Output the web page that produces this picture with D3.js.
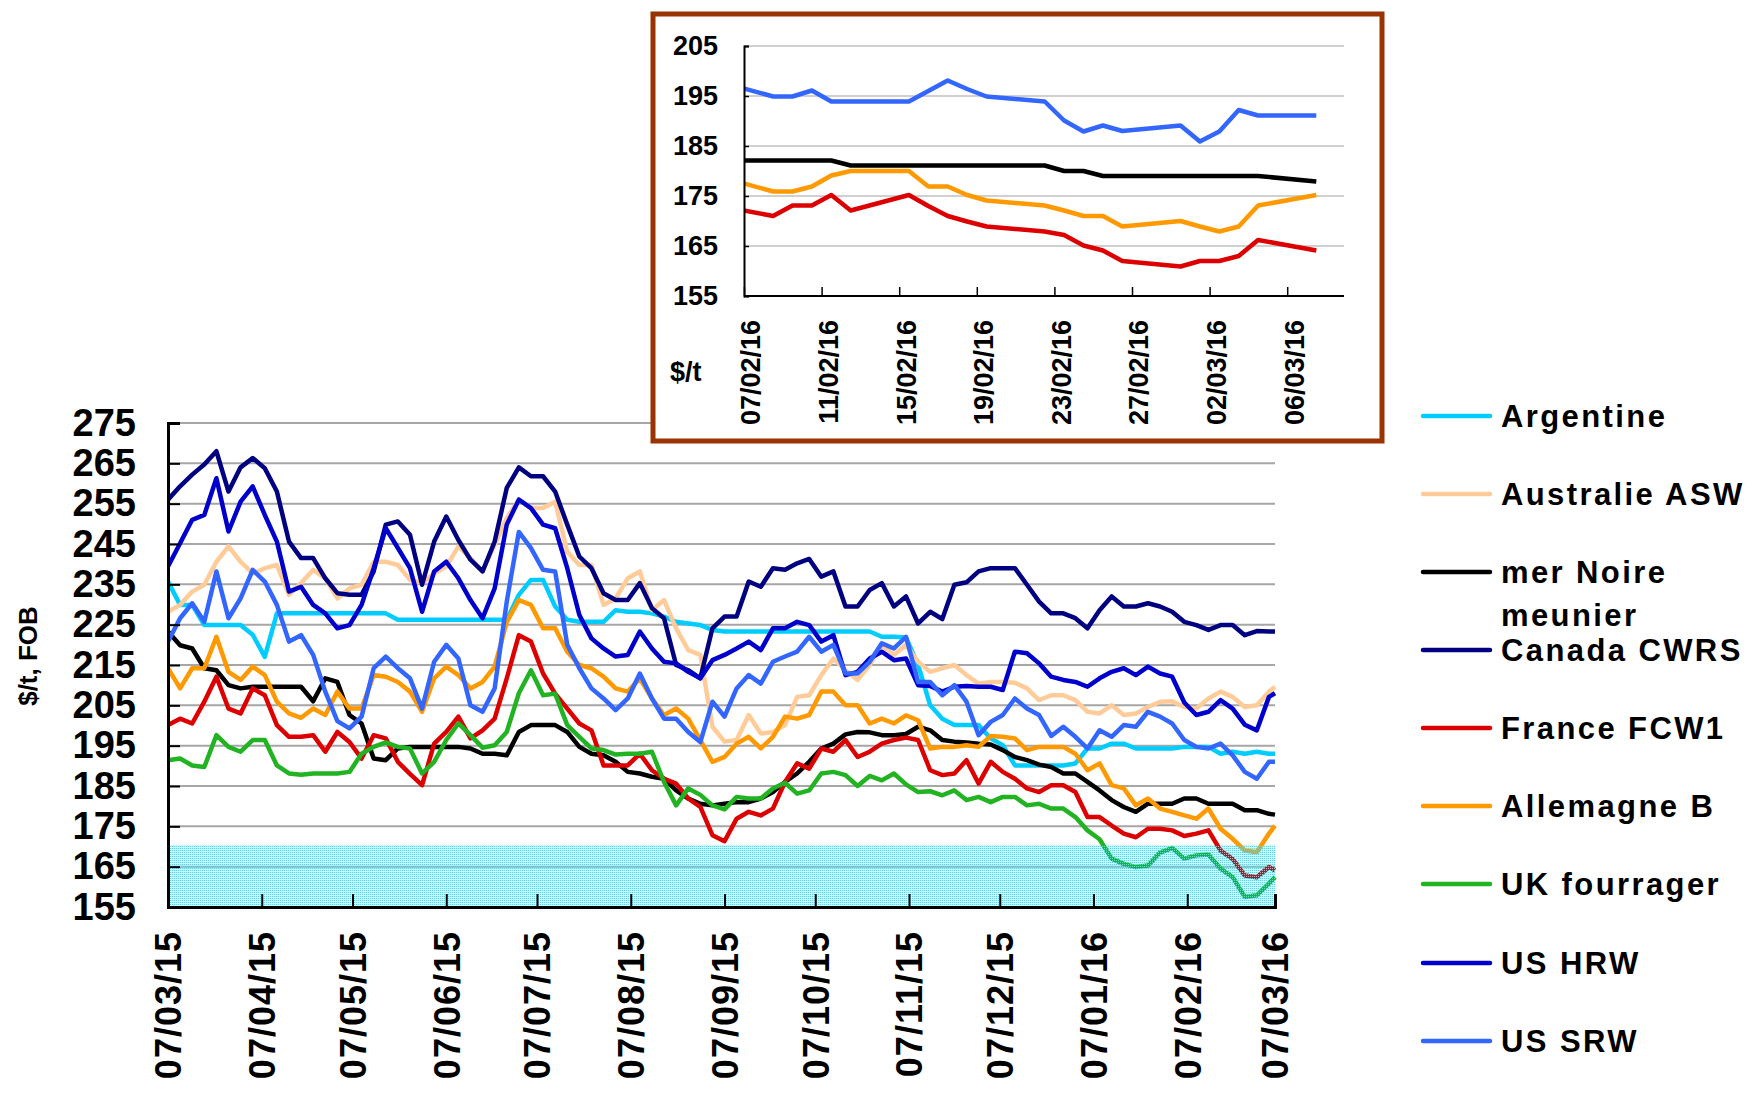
<!DOCTYPE html>
<html>
<head>
<meta charset="utf-8">
<script src="https://cdn.jsdelivr.net/npm/d3@7"></script>
<style>
body { margin: 0; background: #fff; }
svg { display: block; font-family: "Liberation Sans", Arial, sans-serif; font-weight: bold; }
</style>
</head>
<body>
<svg id="chart"></svg>
<script>
var WIDTH = 1753;
var HEIGHT = 1093;

var parseDate = d3.timeParse('%d/%m/%y');

// main chart: one price every 4 days from 07/03/15, last one on 07/03/16
var firstDay = '07/03/15';
var lastDay = '07/03/16';
var stepDays = 4;

var argentine = [235.7, 229.9, 229.9, 224.9, 224.9, 224.9, 224.9, 222.5, 217.0, 227.8, 227.8, 227.8, 227.8, 227.8, 227.8, 227.8,
  227.8, 227.8, 227.8, 226.2, 226.2, 226.2, 226.2, 226.2, 226.2, 226.2, 226.2, 226.2, 226.2, 232.4, 236.1,
  236.1, 229.5, 226.2, 225.7, 225.7, 225.7, 228.6, 228.2, 228.2, 227.8, 227.0, 225.7, 225.3, 224.9, 223.7,
  223.3,
  223.3, 223.3, 223.3, 223.3, 223.3, 223.3, 223.3, 223.3, 223.3, 223.3, 223.3, 223.3, 222.0, 222.0, 221.8,
  215.0, 205.0, 201.7, 200.1, 200.1, 200.1, 196.8, 195.1, 190.1, 190.1, 190.1, 190.1, 190.1, 190.6, 194.3,
  194.3, 195.5, 195.5, 194.3, 194.3, 194.3, 194.3, 194.7, 194.7, 194.7, 193.0, 193.5, 193.0, 193.5, 193.0,
  193.0];
var australie = [228.2, 229.9, 233.2, 234.9, 240.6, 244.4, 240.6, 237.7, 239.0, 239.8, 232.4, 235.3, 238.6, 236.5, 231.5, 234.0,
  234.9, 240.6, 240.6, 239.8, 236.1, 235.3, 237.7, 239.4, 244.4, 241.5, 238.2, 244.8, 251.4, 256.0, 253.9,
  253.9, 255.5, 243.1, 239.8, 239.8, 229.9, 231.5, 236.5, 238.2, 228.6, 231.1, 224.1, 218.7, 217.5, 199.7,
  196.0,
  196.4, 202.6, 198.0, 198.4, 200.1, 207.1, 207.5, 212.5, 216.6, 213.7, 211.3, 215.0, 220.0, 217.5, 220.0,
  215.8, 213.3, 214.2, 215.0, 212.5, 210.4, 210.8, 210.8, 210.6, 209.2, 206.3, 207.5, 207.5, 206.3, 203.4,
  203.0, 205.0, 202.6, 203.0, 204.6, 205.9, 206.0, 204.6, 204.2, 206.7, 208.4, 207.1, 204.6, 205.0, 208.4,
  209.6];
var merNoire = [223.3, 219.9, 219.1, 214.2, 213.7, 210.0, 209.2, 209.6, 209.6, 209.6, 209.6, 209.6, 206.0, 211.7, 210.8, 202.6,
  200.5, 191.8, 191.4, 194.3, 194.7, 194.7, 194.7, 194.7, 194.7, 194.3, 193.0, 193.0, 192.6, 198.4, 200.1,
  200.1, 200.1, 198.4, 194.7, 193.0, 192.6, 191.0, 188.5, 188.1, 187.3, 186.8, 183.9, 181.9, 180.6, 180.2,
  180.6,
  181.0, 181.0, 181.9, 183.5, 186.0, 188.1, 191.0, 194.3, 195.5, 197.8, 198.4, 198.3, 197.6, 197.6, 197.9,
  199.7, 198.8, 196.4, 196.0, 195.8, 195.5, 195.3, 193.9, 192.2, 191.4, 190.3, 189.7, 188.1, 188.1, 186.0,
  183.9, 181.5, 179.8, 178.6, 180.6, 180.6, 180.6, 181.9, 181.9, 180.6, 180.6, 180.6, 179.0, 179.0, 178.1,
  177.9];
var canada = [256.0, 259.3, 262.2, 264.7, 268.0, 258.0, 264.0, 266.3, 263.8, 258.0, 245.6, 241.5, 241.5, 236.5, 232.8, 232.4,
  232.4, 238.2, 249.8, 250.6, 247.3, 234.9, 245.6, 251.8, 246.0, 241.1, 238.2, 245.6, 258.9, 264.0, 261.8,
  261.8, 258.0, 249.8, 241.9, 239.0, 232.8, 231.1, 231.1, 235.3, 229.1, 226.6, 215.0, 213.7, 211.7, 224.1,
  227.0,
  227.0, 235.7, 234.4, 239.0, 238.6, 240.2, 241.3, 236.9, 238.2, 229.5, 229.5, 233.6, 235.3, 229.5, 232.0,
  225.3, 228.2, 226.4, 234.9, 235.5, 238.2, 239.0, 239.0, 239.0, 234.9, 230.7, 227.8, 227.8, 226.6, 224.1,
  228.6, 232.0, 229.5, 229.5, 230.3, 229.5, 228.2, 225.7, 224.9, 223.7, 224.9, 224.9, 222.4, 223.4, 223.3,
  223.3];
var france = [200.1, 201.7, 200.5, 205.9, 212.1, 204.2, 203.0, 209.2, 207.5, 200.1, 197.2, 197.2, 197.6, 193.5, 198.4, 195.9,
  191.8, 197.6, 196.8, 191.0, 188.0, 185.2, 195.5, 198.4, 202.2, 196.8, 198.8, 201.7, 211.7, 222.4, 220.8,
  212.9, 207.9, 204.2, 200.5, 198.8, 190.1, 190.1, 190.1, 193.0, 188.9, 186.8, 185.6, 181.9, 179.8, 172.8,
  171.3,
  176.9, 178.6, 177.7, 179.4, 186.0, 190.6, 189.3, 194.3, 193.5, 196.4, 192.2, 193.5, 195.5, 196.4, 197.0,
  196.4, 188.9, 187.7, 188.1, 191.4, 185.6, 191.0, 188.5, 186.8, 184.4, 183.5, 185.2, 185.2, 183.5, 177.3,
  177.3, 175.2, 173.2, 172.3, 174.4, 174.4, 174.0, 172.6, 173.2, 174.0, 169.0, 166.9, 162.8, 162.4, 164.9,
  164.1];
var allemagne = [214.2, 209.2, 214.2, 214.2, 222.0, 213.3, 211.3, 214.6, 212.5, 205.9, 203.0, 201.9, 204.2, 202.6, 208.4, 204.2,
  204.2, 212.5, 212.1, 210.8, 208.4, 203.4, 211.7, 214.6, 212.5, 209.2, 210.8, 214.6, 225.7, 231.1, 229.9,
  224.1, 224.1, 218.3, 215.0, 214.2, 212.1, 209.2, 208.4, 211.7, 206.7, 202.6, 204.2, 201.7, 196.4, 191.0,
  192.2,
  195.5, 197.2, 194.3, 197.2, 202.2, 201.7, 202.6, 208.4, 208.4, 205.0, 205.0, 200.5, 201.7, 200.5, 202.5,
  201.3, 194.3, 194.7, 194.7, 195.1, 194.7, 197.4, 197.2, 196.8, 193.9, 194.7, 194.7, 194.7, 193.0, 188.9,
  190.6, 185.2, 184.4, 180.2, 181.9, 179.4, 178.6, 177.7, 176.9, 179.4, 174.4, 171.9, 169.0, 168.6, 173.2,
  175.2];
var ukFourrager = [191.4, 191.8, 190.1, 189.7, 197.6, 194.7, 193.5, 196.4, 196.4, 190.1, 188.1, 187.8, 188.1, 188.1, 188.1, 188.5,
  193.0, 194.7, 195.8, 194.7, 194.3, 188.1, 191.0, 196.4, 200.5, 197.6, 194.5, 195.1, 198.4, 208.0, 213.7,
  207.5, 207.9, 200.1, 197.2, 194.3, 193.9, 192.8, 193.0, 193.0, 193.5, 186.0, 180.2, 184.4, 182.8, 180.2,
  179.2,
  182.3, 181.9, 181.9, 184.4, 185.8, 183.1, 183.9, 188.1, 188.5, 187.7, 185.0, 187.5, 186.4, 188.1, 185.4,
  183.5, 183.7, 182.7, 183.9, 181.5, 182.3, 181.0, 182.3, 182.3, 180.2, 180.6, 179.4, 179.4, 177.3, 174.0,
  171.8, 167.0, 165.7, 164.9, 165.3, 168.5, 169.6, 167.0, 167.8, 168.0, 164.5, 162.4, 157.5, 157.9, 160.8,
  162.4];
var usHRW = [239.4, 245.2, 251.0, 252.2, 261.3, 248.1, 255.5, 259.3, 252.2, 245.6, 233.2, 234.4, 229.9, 227.8, 224.1, 224.9,
  229.9, 239.0, 248.9, 244.0, 239.0, 228.2, 238.2, 240.6, 236.5, 231.1, 226.6, 234.0, 249.8, 256.0, 253.9,
  249.8, 248.9, 239.0, 227.4, 221.6, 219.1, 217.1, 217.5, 223.3, 219.1, 215.8, 215.4, 213.3, 211.7, 216.2,
  217.5,
  219.1, 220.8, 218.7, 224.1, 224.1, 225.7, 224.9, 220.8, 222.4, 212.5, 213.3, 216.6, 218.3, 216.2, 216.6,
  210.0, 209.8, 208.4, 209.6, 209.8, 209.6, 209.6, 208.8, 218.3, 217.9, 215.4, 212.1, 211.3, 210.8, 209.6,
  211.7, 213.3, 214.2, 212.5, 214.6, 212.9, 212.1, 205.7, 202.6, 203.4, 206.3, 204.2, 200.2, 198.8, 207.1,
  208.0];
var usSRW = [220.8, 226.6, 230.3, 225.7, 238.2, 226.6, 231.5, 238.6, 235.7, 229.9, 220.8, 222.4, 217.5, 208.4, 201.1, 199.3,
  202.2, 214.2, 217.1, 214.2, 211.7, 204.2, 215.8, 220.0, 216.6, 205.0, 203.4, 209.2, 230.7, 248.0, 244.0,
  238.6, 238.2, 220.0, 214.2, 209.2, 206.7, 203.8, 206.7, 212.9, 206.7, 201.7, 201.7, 198.4, 195.9, 205.9,
  202.2,
  209.2, 212.5, 210.4, 215.8, 217.1, 218.3, 222.0, 218.3, 220.0, 212.9, 212.9, 215.8, 220.4, 219.1, 222.0,
  210.8, 210.8, 207.5, 210.0, 205.9, 197.6, 200.9, 202.6, 206.7, 204.2, 202.6, 197.4, 199.7, 197.2, 194.3,
  198.8, 197.2, 200.1, 199.7, 203.4, 202.2, 200.5, 196.4, 194.7, 194.3, 195.5, 192.6, 188.5, 186.8, 191.0,
  191.0];

var seriesNames = ['Argentine', 'Australie ASW', 'mer Noire meunier', 'Canada CWRS', 'France FCW1',
  'Allemagne B', 'UK fourrager', 'US HRW', 'US SRW'];
var seriesColors = ['#00ccff', '#ffcc99', '#000000', '#000080', '#dd0000', '#ff9900', '#22b322', '#0000cc', '#3366ff'];
var seriesValues = [argentine, australie, merNoire, canada, france, allemagne, ukFourrager, usHRW, usSRW];

var xTickLabels = ['07/03/15', '07/04/15', '07/05/15', '07/06/15', '07/07/15', '07/08/15', '07/09/15',
  '07/10/15', '07/11/15', '07/12/15', '07/01/16', '07/02/16', '07/03/16'];
var yTicks = [155, 165, 175, 185, 195, 205, 215, 225, 235, 245, 255, 265, 275];
var bandTop = 170.4;

// inset: last month, one price per trading day
var insetDates = ['05/02/16', '08/02/16', '09/02/16', '10/02/16', '11/02/16', '12/02/16', '15/02/16', '16/02/16',
  '17/02/16', '18/02/16', '19/02/16', '22/02/16', '23/02/16', '24/02/16', '25/02/16', '26/02/16', '29/02/16',
  '01/03/16', '02/03/16', '03/03/16', '04/03/16', '07/03/16'];
var insetSRW = [198.1, 194.9, 194.9, 196.1, 193.9, 193.9, 193.9, 196.0, 198.1, 196.4, 194.9, 193.9, 190.1, 187.9,
  189.1, 188.0, 189.1, 185.9, 187.9, 192.2, 191.1, 191.1];
var insetNoire = [182.1, 182.1, 182.1, 182.1, 182.1, 181.1, 181.1, 181.1, 181.1, 181.1, 181.1, 181.1, 180.0, 180.0,
  179.0, 179.0, 179.0, 179.0, 179.0, 179.0, 179.0, 177.9];
var insetAllemagne = [179.1, 175.9, 175.9, 176.9, 179.1, 180.0, 180.0, 176.9, 176.9, 175.2, 174.1, 173.1, 172.1, 171.0,
  171.0, 168.9, 170.0, 168.9, 167.9, 168.9, 173.1, 175.2];
var insetFrance = [173.2, 171.0, 173.1, 173.1, 175.2, 172.1, 175.2, 173.0, 171.0, 169.9, 168.9, 167.9, 167.2, 165.1,
  164.1, 162.0, 160.9, 162.0, 162.0, 163.0, 166.2, 164.1];
var insetColors = ['#3366ff', '#000000', '#ff9900', '#dd0000'];
var insetValues = [insetSRW, insetNoire, insetAllemagne, insetFrance];
var insetXTickLabels = ['07/02/16', '11/02/16', '15/02/16', '19/02/16', '23/02/16', '27/02/16', '02/03/16', '06/03/16'];
var insetYTicks = [155, 165, 175, 185, 195, 205];

var svg = d3.select('#chart')
  .attr('width', WIDTH)
  .attr('height', HEIGHT);

svg.append('rect').attr('width', WIDTH).attr('height', HEIGHT).attr('fill', '#fff');

var defs = svg.append('defs');
var dots = defs.append('pattern')
  .attr('id', 'dots')
  .attr('width', 2).attr('height', 2)
  .attr('patternUnits', 'userSpaceOnUse');
dots.append('rect').attr('width', 1).attr('height', 1).attr('fill', '#4fdcf0');

// ---------- main chart ----------
var plotLeft = 168, plotRight = 1275, plotTop = 423, plotBottom = 907;

var xScale = d3.scaleTime()
  .domain([parseDate(firstDay), parseDate(lastDay)])
  .range([plotLeft, plotRight]);
var yScale = d3.scaleLinear()
  .domain([155, 275])
  .range([plotBottom, plotTop]);

var mainDates = d3.range(argentine.length - 1).map(function(i) {
  return d3.timeDay.offset(parseDate(firstDay), i * stepDays);
});
mainDates.push(parseDate(lastDay));

defs.append('clipPath').attr('id', 'mainClip')
  .append('rect').attr('x', plotLeft).attr('y', plotTop - 10)
  .attr('width', plotRight - plotLeft + 4).attr('height', plotBottom - plotTop + 10);

svg.append('rect')
  .attr('x', plotLeft).attr('y', yScale(bandTop))
  .attr('width', plotRight - plotLeft).attr('height', plotBottom - yScale(bandTop))
  .attr('fill', '#d6f6fb');

svg.append('g')
  .selectAll('line')
  .data(yTicks.slice(1))
  .enter()
  .append('line')
  .attr('x1', plotLeft).attr('x2', plotRight)
  .attr('y1', function(d) { return yScale(d); })
  .attr('y2', function(d) { return yScale(d); })
  .attr('stroke', '#a6a6a6')
  .attr('stroke-width', 2);

var line = d3.line()
  .x(function(d) { return xScale(d.date); })
  .y(function(d) { return yScale(d.value); });

svg.append('g')
  .attr('clip-path', 'url(#mainClip)')
  .selectAll('path')
  .data(seriesValues)
  .enter()
  .append('path')
  .attr('d', function(values) {
    return line(values.map(function(v, i) { return { date: mainDates[i], value: v }; }));
  })
  .attr('fill', 'none')
  .attr('stroke', function(d, i) { return seriesColors[i]; })
  .attr('stroke-width', 4.5)
  .attr('stroke-linejoin', 'round');

svg.append('rect')
  .attr('x', plotLeft).attr('y', yScale(bandTop))
  .attr('width', plotRight - plotLeft).attr('height', plotBottom - yScale(bandTop))
  .attr('fill', 'url(#dots)');

var leftAxis = d3.axisLeft(yScale).tickValues(yTicks).tickSize(-12).tickFormat(d3.format('d'));
svg.append('g')
  .attr('id', 'y-axis')
  .attr('transform', 'translate(' + plotLeft + ',0)')
  .call(leftAxis)
  .call(function(g) {
    g.select('.domain').attr('stroke', '#000').attr('stroke-width', 3);
    g.selectAll('.tick line').attr('stroke', '#000').attr('stroke-width', 2);
    g.selectAll('.tick text')
      .attr('x', -32)
      .attr('font-size', 38)
      .attr('font-family', '"Liberation Sans", Arial, sans-serif')
      .attr('font-weight', 'bold')
      .attr('fill', '#000');
  });

var botAxis = d3.axisBottom(xScale)
  .tickValues(xTickLabels.map(parseDate))
  .tickSize(-13)
  .tickFormat(d3.timeFormat('%d/%m/%y'));
svg.append('g')
  .attr('id', 'x-axis')
  .attr('transform', 'translate(0,' + plotBottom + ')')
  .call(botAxis)
  .call(function(g) {
    g.select('.domain').attr('stroke', '#000').attr('stroke-width', 3);
    g.selectAll('.tick line').attr('stroke', '#000').attr('stroke-width', 2);
    g.selectAll('.tick text')
      .attr('transform', 'translate(0,24) rotate(-90)')
      .attr('x', 0).attr('y', 0).attr('dy', '0.36em')
      .attr('text-anchor', 'end')
      .attr('letter-spacing', 1)
      .attr('font-size', 36)
      .attr('font-family', '"Liberation Sans", Arial, sans-serif')
      .attr('font-weight', 'bold')
      .attr('fill', '#000');
  });

svg.append('text')
  .attr('transform', 'translate(28,656) rotate(-90)')
  .attr('text-anchor', 'middle')
  .attr('dy', '0.35em')
  .attr('font-size', 26)
  .text('$/t, FOB');

// ---------- legend ----------
var legendRows = [416, 494, 572, 650, 728, 806, 884, 963, 1041];
var legend = svg.append('g')
  .attr('font-size', 31)
  .attr('letter-spacing', 2.4);
seriesNames.forEach(function(name, i) {
  legend.append('line')
    .attr('x1', 1423).attr('x2', 1490)
    .attr('y1', legendRows[i]).attr('y2', legendRows[i])
    .attr('stroke', seriesColors[i])
    .attr('stroke-width', 4.5)
    .attr('stroke-linecap', 'round');
  var label = legend.append('text')
    .attr('x', 1501)
    .attr('y', legendRows[i])
    .attr('dy', '0.36em');
  if (name === 'mer Noire meunier') {
    label.text('mer Noire');
    legend.append('text').attr('x', 1501).attr('y', legendRows[i] + 43).attr('dy', '0.36em').text('meunier');
  } else {
    label.text(name);
  }
});

// ---------- inset ----------
svg.append('rect')
  .attr('x', 653).attr('y', 14)
  .attr('width', 729).attr('height', 427)
  .attr('fill', '#fff')
  .attr('stroke', '#993300')
  .attr('stroke-width', 5);

var iLeft = 744, iRight = 1344, iTop = 46, iBottom = 296;
var iStart = d3.timeHour.offset(parseDate('06/02/16'), 12);
var xInset = d3.scaleTime()
  .domain([iStart, d3.timeDay.offset(iStart, 32)])
  .range([iLeft, iLeft + 32 * 19.4]);
var yInset = d3.scaleLinear().domain([155, 205]).range([iBottom, iTop]);

defs.append('clipPath').attr('id', 'insetClip')
  .append('rect').attr('x', iLeft).attr('y', iTop - 10).attr('width', iRight - iLeft).attr('height', iBottom - iTop + 10);

svg.append('g')
  .selectAll('line')
  .data(insetYTicks.slice(1))
  .enter()
  .append('line')
  .attr('x1', iLeft).attr('x2', iRight)
  .attr('y1', function(d) { return yInset(d); })
  .attr('y2', function(d) { return yInset(d); })
  .attr('stroke', '#c0c0c0')
  .attr('stroke-width', 1.5);

var insetLine = d3.line()
  .x(function(d) { return xInset(d.date); })
  .y(function(d) { return yInset(d.value); });

svg.append('g')
  .attr('clip-path', 'url(#insetClip)')
  .selectAll('path')
  .data(insetValues)
  .enter()
  .append('path')
  .attr('d', function(values) {
    return insetLine(values.map(function(v, i) { return { date: parseDate(insetDates[i]), value: v }; }));
  })
  .attr('fill', 'none')
  .attr('stroke', function(d, i) { return insetColors[i]; })
  .attr('stroke-width', 4.5)
  .attr('stroke-linejoin', 'round');

var insetLeftAxis = d3.axisLeft(yInset).tickValues(insetYTicks).tickSize(-5).tickFormat(d3.format('d'));
svg.append('g')
  .attr('transform', 'translate(' + iLeft + ',0)')
  .call(insetLeftAxis)
  .call(function(g) {
    g.select('.domain').attr('stroke', '#000').attr('stroke-width', 2);
    g.selectAll('.tick line').attr('stroke', '#000').attr('stroke-width', 1.5);
    g.selectAll('.tick text')
      .attr('x', -26)
      .attr('font-size', 27)
      .attr('font-family', '"Liberation Sans", Arial, sans-serif')
      .attr('font-weight', 'bold')
      .attr('fill', '#000');
  });

// tick marks sit between trading days, labels under the day itself
var insetTickDates = insetXTickLabels.map(function(s) { return d3.timeHour.offset(parseDate(s), -12); });
var insetBotAxis = d3.axisBottom(xInset).tickValues(insetTickDates).tickSize(-9).tickFormat('');
svg.append('g')
  .attr('transform', 'translate(0,' + iBottom + ')')
  .call(insetBotAxis)
  .call(function(g) {
    g.select('.domain').remove();
    g.selectAll('.tick line').attr('stroke', '#000').attr('stroke-width', 1.5);
  });
svg.append('line')
  .attr('x1', iLeft).attr('x2', iRight)
  .attr('y1', iBottom).attr('y2', iBottom)
  .attr('stroke', '#000').attr('stroke-width', 2);

svg.append('g')
  .selectAll('text')
  .data(insetXTickLabels)
  .enter()
  .append('text')
  .attr('transform', function(d) {
    return 'translate(' + (xInset(parseDate(d)) - 3) + ',320) rotate(-90)';
  })
  .attr('text-anchor', 'end')
  .attr('dy', '0.36em')
  .attr('font-size', 27)
  .text(function(d) { return d; });

svg.append('text')
  .attr('x', 670).attr('y', 381)
  .attr('font-size', 27)
  .text('$/t');
</script>
</body>
</html>
